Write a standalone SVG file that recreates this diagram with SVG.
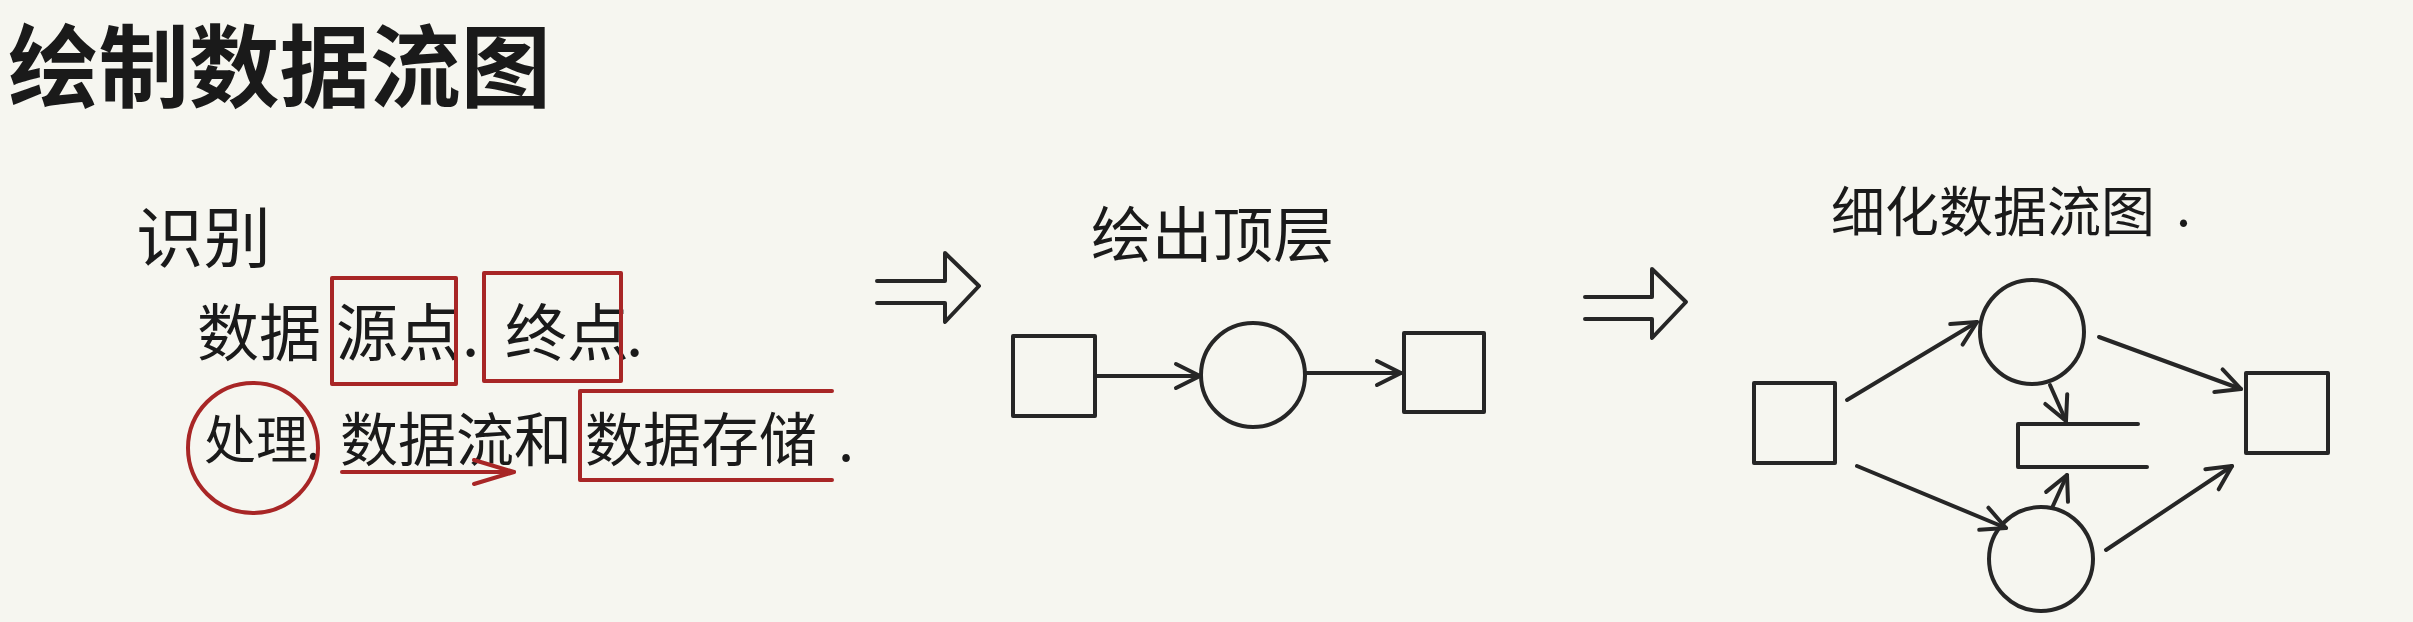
<svg xmlns="http://www.w3.org/2000/svg" width="2413" height="622" viewBox="0 0 2413 622">
<style>
.bg{fill:#f6f6f0}
.ink{fill:none;stroke:#262626;stroke-width:4;stroke-linecap:round;stroke-linejoin:round}
.red{fill:none;stroke:#a82626;stroke-width:4;stroke-linecap:round;stroke-linejoin:round}
.t{font-family:"Noto Sans CJK SC","Noto Sans",sans-serif;fill:#1a1a1a}
</style>
<defs>
<marker id="ah" markerUnits="userSpaceOnUse" markerWidth="60" markerHeight="60" viewBox="-30 -30 60 60" refX="0" refY="0" orient="auto">
<path d="M -24 -12 L 0 0 L -24 12" fill="none" stroke="#262626" stroke-width="4" stroke-linecap="round" stroke-linejoin="round"/>
</marker>
<marker id="ahr" markerUnits="userSpaceOnUse" markerWidth="100" markerHeight="60" viewBox="-50 -30 100 60" refX="0" refY="0" orient="auto">
<path d="M -40 -12 L 0 0 L -40 12" fill="none" stroke="#a82626" stroke-width="4" stroke-linecap="round" stroke-linejoin="round"/>
</marker>
</defs>
<rect class="bg" x="0" y="0" width="2413" height="622"/>

<g id="title">
<text class="t" x="8" y="100" font-size="90" font-weight="700" textLength="543" lengthAdjust="spacingAndGlyphs">绘制数据流图</text>
</g>

<g id="step1">
<text class="t" x="136" y="262" font-size="66" textLength="135" lengthAdjust="spacingAndGlyphs">识别</text>
<text class="t" font-size="62" y="356"><tspan x="197">数据</tspan><tspan x="336">源点</tspan><tspan x="462">.</tspan><tspan x="505">终点</tspan><tspan x="626">.</tspan></text>
<text class="t" font-size="52" y="459"><tspan x="204">处理</tspan><tspan x="306">.</tspan></text>
<text class="t" font-size="58" y="461"><tspan x="340">数据流和</tspan><tspan x="585">数据存储</tspan><tspan x="838">.</tspan></text>
</g>
<g id="mark-source">
<rect class="red" x="332" y="278" width="124" height="106"/>
</g>
<g id="mark-sink">
<rect class="red" x="484" y="273" width="137" height="108"/>
</g>
<g id="mark-process">
<circle class="red" cx="253" cy="448" r="65"/>
</g>
<g id="mark-flow">
<line class="red" x1="342" y1="472" x2="514" y2="472" marker-end="url(#ahr)"/>
</g>
<g id="mark-store">
<path class="red" d="M 832 391 L 580 391 L 580 480 L 832 480"/>
</g>

<g id="step-arrow-1">
<path class="ink" d="M 877 281 L 945 281 L 945 253 L 979 286 L 945 322 L 945 303 L 877 303"/>
</g>

<g id="step2">
<text class="t" x="1091" y="257" font-size="60" textLength="243" lengthAdjust="spacingAndGlyphs">绘出顶层</text>
</g>
<g id="top-source"><rect class="ink" x="1013" y="336" width="82" height="80"/></g>
<g id="top-process"><circle class="ink" cx="1253" cy="375" r="52"/></g>
<g id="top-sink"><rect class="ink" x="1404" y="333" width="80" height="79"/></g>

<g id="step-arrow-2">
<path class="ink" d="M 1585 297 L 1652 297 L 1652 269 L 1686 302 L 1652 338 L 1652 319 L 1585 319"/>
</g>

<g id="step3">
<text class="t" x="1831" y="232" font-size="54" textLength="324" lengthAdjust="spacingAndGlyphs">细化数据流图</text>
<text class="t" x="2176" y="226" font-size="54">.</text>
</g>
<g id="fine-source"><rect class="ink" x="1754" y="383" width="81" height="80"/></g>
<g id="fine-process-1"><circle class="ink" cx="2032" cy="332" r="52"/></g>
<g id="fine-process-2"><circle class="ink" cx="2041" cy="559" r="52"/></g>
<g id="fine-store"><path class="ink" d="M 2138 424 L 2018 424 L 2018 467 L 2147 467"/></g>
<g id="fine-sink"><rect class="ink" x="2246" y="373" width="82" height="80"/></g>

<g id="connectors">
<line class="ink" x1="1097" y1="376" x2="1200" y2="376" marker-end="url(#ah)"/>
<line class="ink" x1="1305" y1="373" x2="1401" y2="373" marker-end="url(#ah)"/>
<line class="ink" x1="1847" y1="400" x2="1977" y2="322" marker-end="url(#ah)"/>
<line class="ink" x1="2099" y1="337" x2="2241" y2="389" marker-end="url(#ah)"/>
<line class="ink" x1="2050" y1="385" x2="2066" y2="421" marker-end="url(#ah)"/>
<line class="ink" x1="1857" y1="466" x2="2006" y2="528" marker-end="url(#ah)"/>
<line class="ink" x1="2052" y1="508" x2="2067" y2="475" marker-end="url(#ah)"/>
<line class="ink" x1="2106" y1="550" x2="2232" y2="466" marker-end="url(#ah)"/>
</g>
</svg>
